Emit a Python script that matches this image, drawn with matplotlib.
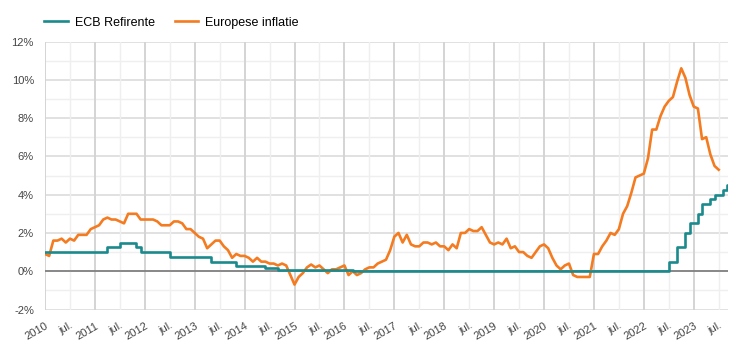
import matplotlib
matplotlib.use("Agg")
import matplotlib.pyplot as plt
import numpy as np

plt.rcParams['font.family'] = ['Liberation Sans', 'DejaVu Sans']

# ---- data ----
start_year = 2010
inflation = [
    0.9, 0.8, 1.6, 1.6, 1.7, 1.5, 1.7, 1.6, 1.9, 1.9, 1.9, 2.2,      # 2010
    2.3, 2.4, 2.7, 2.8, 2.7, 2.7, 2.6, 2.5, 3.0, 3.0, 3.0, 2.7,      # 2011
    2.7, 2.7, 2.7, 2.6, 2.4, 2.4, 2.4, 2.6, 2.6, 2.5, 2.2, 2.2,      # 2012
    2.0, 1.8, 1.7, 1.2, 1.4, 1.6, 1.6, 1.3, 1.1, 0.7, 0.9, 0.8,      # 2013
    0.8, 0.7, 0.5, 0.7, 0.5, 0.5, 0.4, 0.4, 0.3, 0.4, 0.3, -0.2,     # 2014
    -0.7, -0.3, -0.1, 0.2, 0.35, 0.2, 0.3, 0.1, -0.1, 0.1, 0.1, 0.2, # 2015
    0.3, -0.2, 0.0, -0.2, -0.1, 0.1, 0.2, 0.2, 0.4, 0.5, 0.6, 1.1,   # 2016
    1.8, 2.0, 1.5, 1.9, 1.4, 1.3, 1.3, 1.5, 1.5, 1.4, 1.5, 1.3,      # 2017
    1.3, 1.1, 1.4, 1.2, 2.0, 2.0, 2.2, 2.1, 2.1, 2.3, 1.9, 1.5,      # 2018
    1.4, 1.5, 1.4, 1.7, 1.2, 1.3, 1.0, 1.0, 0.8, 0.7, 1.0, 1.3,      # 2019
    1.4, 1.2, 0.7, 0.3, 0.1, 0.3, 0.4, -0.2, -0.3, -0.3, -0.3, -0.3, # 2020
    0.9, 0.9, 1.3, 1.6, 2.0, 1.9, 2.2, 3.0, 3.4, 4.1, 4.9, 5.0,      # 2021
    5.1, 5.9, 7.4, 7.4, 8.1, 8.6, 8.9, 9.1, 9.9, 10.6, 10.1, 9.2,    # 2022
    8.6, 8.5, 6.9, 7.0, 6.1, 5.5, 5.3,                               # 2023
]

ecb_change_dates = ['2010-01', '2011-04', '2011-07', '2011-11', '2011-12',
                    '2012-07', '2013-05', '2013-11', '2014-06', '2014-09',
                    '2016-03', '2022-07', '2022-09', '2022-11', '2022-12',
                    '2023-02', '2023-03', '2023-05', '2023-06', '2023-08',
                    '2023-09']
ecb_rates = [1.0, 1.25, 1.5, 1.25, 1.0, 0.75, 0.5, 0.25, 0.15, 0.05, 0.0,
             0.5, 1.25, 2.0, 2.5, 3.0, 3.5, 3.75, 4.0, 4.25, 4.5]
x_end = '2023-09'

years = list(range(2010, 2024))
y_ticks = [-2, 0, 2, 4, 6, 8, 10, 12]
y_labels = ['-2%', '0%', '2%', '4%', '6%', '8%', '10%', '12%']
series_names = ['ECB Refirente', 'Europese inflatie']


def to_dec(s):
    y, m = s.split('-')
    return int(y) + (int(m) - 1) / 12.0


infl_x = start_year + np.arange(len(inflation)) / 12.0
ecb_x = [to_dec(d) for d in ecb_change_dates]
xmax = to_dec(x_end) + 0.02

# ---- figure ----
W, H = 742, 356
fig = plt.figure(figsize=(W / 100, H / 100), dpi=100)
L, R, T, B = 45, 728, 41.5, 309.5
ax = fig.add_axes([L / W, 1 - B / H, (R - L) / W, (B - T) / H])

ax.set_xlim(2010, xmax)
ax.set_ylim(-2, 12)

# grid
for yv in np.arange(-2, 13, 1):
    major = (yv % 2 == 0)
    ax.axhline(yv, color='#d9d9d9' if major else '#efefef',
               lw=1.1 if major else 1.0, zorder=1)
for yr in years:
    ax.axvline(yr, color='#d4d4d4', lw=1.4, zorder=1)
    if yr + 0.5 < xmax:
        ax.axvline(yr + 0.5, color='#efefef', lw=1.0, zorder=1)
ax.axhline(0, color='#707070', lw=1.1, zorder=2)

ecb_xx = ecb_x + [xmax]
ecb_yy = ecb_rates + [ecb_rates[-1]]
l1, = ax.plot(ecb_xx, ecb_yy, drawstyle='steps-post', color='#1b8a8c',
              lw=1.9, zorder=4, label=series_names[0])
l2, = ax.plot(infl_x, inflation, color='#f47b20', lw=1.9, zorder=3,
              label=series_names[1], solid_joinstyle='round')

for s in ax.spines.values():
    s.set_visible(False)

xt = []
xl = []
for yr in years:
    xt.append(yr)
    xl.append(str(yr))
    if yr + 0.5 < xmax:
        xt.append(yr + 0.5)
        xl.append('jul.')
ax.set_xticks(xt)
ax.set_xticklabels(xl, rotation=30, ha='right', va='top',
                   rotation_mode='anchor', fontsize=8, color='#444444')
ax.set_yticks(y_ticks)
ax.set_yticklabels(y_labels, fontsize=8, color='#444444')
ax.tick_params(axis='both', length=0)
ax.tick_params(axis='x', pad=8)
ax.tick_params(axis='y', pad=8)

fig.legend(handles=[l1, l2], loc='center left',
           bbox_to_anchor=(44 / W, 1 - 22.7 / H), ncol=2, frameon=False,
           fontsize=9, handlelength=1.9, handletextpad=0.55,
           columnspacing=1.6, borderpad=0, borderaxespad=0)

fig.savefig('out.png', dpi=100)
